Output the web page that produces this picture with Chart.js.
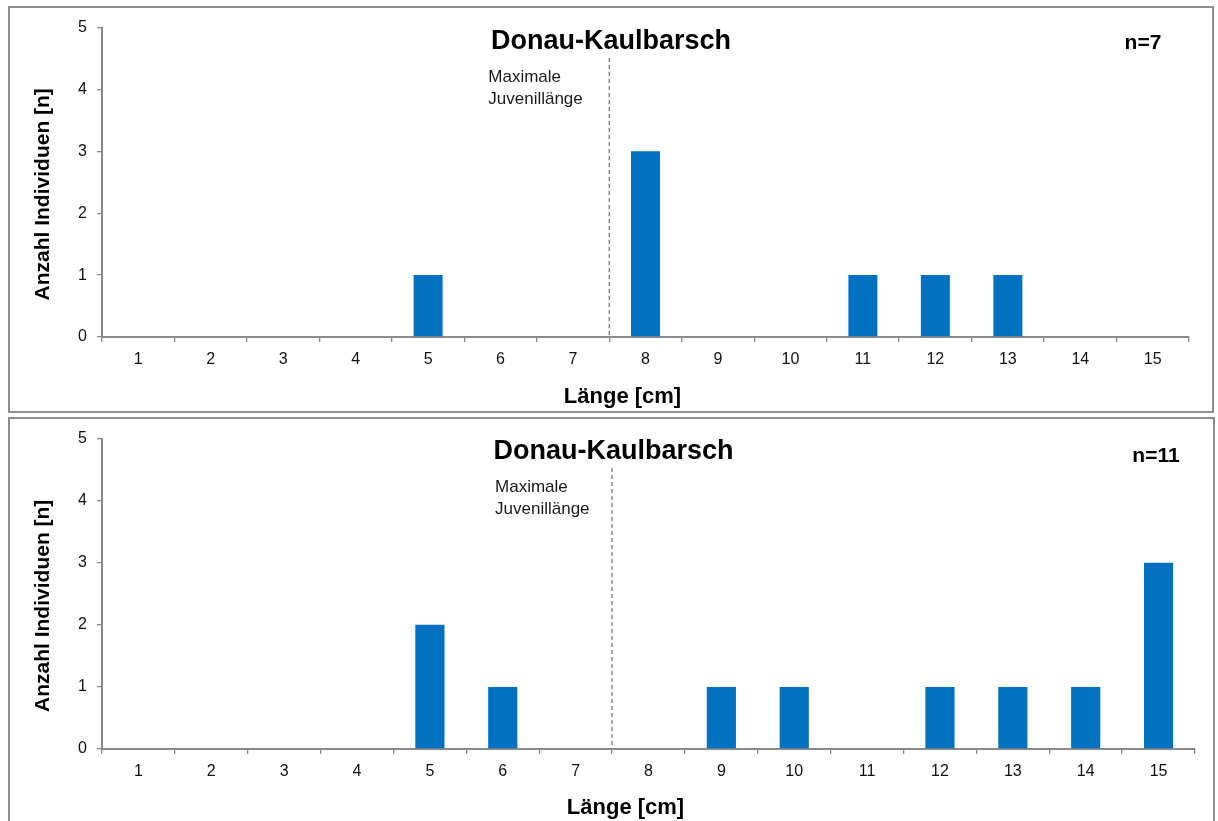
<!DOCTYPE html>
<html>
<head>
<meta charset="utf-8">
<script src="https://cdn.jsdelivr.net/npm/chart.js@4.4.1/dist/chart.umd.min.js"></script>
<style>
  body { margin: 0; background: #fff; width: 1218px; height: 821px; overflow: hidden; position: relative; }
  .panel { position: absolute; border: 2px solid #8e8e8e; background: #fff; }
  #box1 { left: 8px; top: 6px; width: 1202px; height: 403px; }
  #box2 { left: 8px; top: 417px; width: 1203px; height: 410px; }
  canvas { display: block; }
</style>
</head>
<body>
<div class="panel" id="box1"><canvas id="chart1" width="1202" height="403"></canvas></div>
<div class="panel" id="box2"><canvas id="chart2" width="1203" height="402"></canvas></div>
<script>
const lengths = ['1', '2', '3', '4', '5', '6', '7', '8', '9', '10', '11', '12', '13', '14', '15'];
const counts1 = [0, 0, 0, 0, 1, 0, 0, 3, 0, 0, 1, 1, 1, 0, 0];
const counts2 = [0, 0, 0, 0, 2, 1, 0, 0, 1, 1, 0, 1, 1, 1, 3];
const yTicks = [0, 1, 2, 3, 4, 5];
const juvenileLimit = 7; // dashed line after this length class
const chartTitle = 'Donau-Kaulbarsch';
const xTitle = 'Länge [cm]';
const yTitle = 'Anzahl Individuen [n]';
const noteLines = ['Maximale', 'Juvenillänge'];

const FONT = '"Liberation Sans", Arial, sans-serif';
const AXIS_GREY = '#8a8a8a';

// titles, n= label, dashed line and note (Excel places these off-centre)
const extrasPlugin = {
    id: 'extras',
    afterDraw(chart, args, opts) {
        const { ctx, chartArea, scales } = chart;
        const x = scales.x;
        const idx = lengths.indexOf(String(juvenileLimit));
        const lineX = (x.getPixelForValue(idx) + x.getPixelForValue(idx + 1)) / 2;
        const midX = (chartArea.left + chartArea.right) / 2;
        const midY = (chartArea.top + chartArea.bottom) / 2;

        ctx.save();
        // dashed line
        ctx.strokeStyle = '#7a7a7a';
        ctx.lineWidth = 1.3;
        ctx.setLineDash([4, 3]);
        ctx.beginPath();
        ctx.moveTo(lineX, opts.lineTop);
        ctx.lineTo(lineX, chartArea.bottom);
        ctx.stroke();
        ctx.setLineDash([]);

        // note
        ctx.fillStyle = '#1a1a1a';
        ctx.font = '17px ' + FONT;
        ctx.textAlign = 'left';
        ctx.textBaseline = 'middle';
        noteLines.forEach((t, i) => ctx.fillText(t, lineX + opts.noteDx, opts.noteY + i * 22));

        // chart title
        ctx.fillStyle = '#000';
        ctx.font = 'bold 27px ' + FONT;
        ctx.textAlign = 'center';
        ctx.fillText(chartTitle, chart.width / 2 + opts.titleDx, opts.titleY);

        // n=
        ctx.font = 'bold 21px ' + FONT;
        ctx.fillText(opts.nText, opts.nX, opts.nY);

        // axis titles
        ctx.font = 'bold 22px ' + FONT;
        ctx.fillText(xTitle, midX - 23, opts.xTitleY);
        ctx.save();
        ctx.translate(33, midY + 12);
        ctx.rotate(-Math.PI / 2);
        ctx.font = 'bold 21px ' + FONT;
        ctx.fillText(yTitle, 0, 0);
        ctx.restore();
        ctx.restore();
    }
};

function makeChart(id, counts, pad, xHeight, extras) {
    const ctx = document.getElementById(id).getContext('2d');
    return new Chart(ctx, {
        type: 'bar',
        data: {
            labels: lengths,
            datasets: [{
                data: counts,
                backgroundColor: '#0070c0',
                borderWidth: 0,
                barPercentage: 0.4,
                categoryPercentage: 1
            }]
        },
        plugins: [extrasPlugin],
        options: {
            responsive: false,
            animation: false,
            devicePixelRatio: 1,
            layout: { padding: pad },
            plugins: {
                legend: { display: false },
                tooltip: { enabled: false },
                extras: extras
            },
            scales: {
                x: {
                    afterFit: s => { s.height = xHeight; },
                    grid: { offset: true, drawOnChartArea: false, drawTicks: true, tickLength: 5, tickColor: AXIS_GREY, lineWidth: 1.3 },
                    border: { display: true, color: AXIS_GREY, width: 2 },
                    ticks: { color: '#111', font: { family: FONT, size: 16 }, padding: 8, maxRotation: 0 }
                },
                y: {
                    min: yTicks[0],
                    max: yTicks[yTicks.length - 1],
                    afterFit: s => { s.width = 92; },
                    afterBuildTicks: s => { s.ticks = yTicks.map(v => ({ value: v })); },
                    grid: { drawOnChartArea: false, drawTicks: true, tickLength: 5, tickColor: AXIS_GREY, lineWidth: 1.3 },
                    border: { display: true, color: AXIS_GREY, width: 2 },
                    ticks: { color: '#111', font: { family: FONT, size: 16 }, padding: 10 }
                }
            }
        }
    });
}

makeChart('chart1', counts1, { top: 19, right: 23, left: 0, bottom: 0 }, 74,
    { lineTop: 50, noteDx: -121, noteY: 69, titleDx: 0, titleY: 34, nText: 'n=7', nX: 1133, nY: 35, xTitleY: 389 });
makeChart('chart2', counts2, { top: 18, right: 18, left: 0, bottom: 0 }, 72,
    { lineTop: 49, noteDx: -117, noteY: 68, titleDx: 2, titleY: 33, nText: 'n=11', nX: 1146, nY: 37, xTitleY: 389 });
</script>
</body>
</html>
